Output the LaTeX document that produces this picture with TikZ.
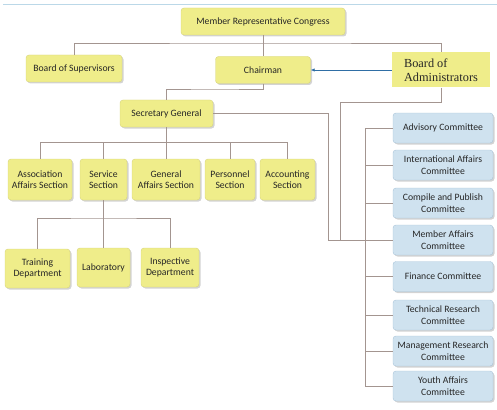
\documentclass[tikz,border=0pt]{standalone}
\usepackage{fontspec}
\setmainfont{Carlito}
\newfontfamily\adminfont{Liberation Serif}
\usepackage{tikz}
\definecolor{boxyellow}{HTML}{EFED8A}
\definecolor{boxedge}{HTML}{D6D47C}
\definecolor{comblue}{HTML}{CFE2EF}
\definecolor{comedge}{HTML}{A9C4D9}
\definecolor{linkgray}{HTML}{A39590}
\definecolor{arrowblue}{HTML}{2F6EA5}
\definecolor{topblue}{HTML}{BBD8E8}
\definecolor{inkgray}{HTML}{262626}
\usetikzlibrary{shadows,arrows.meta}
\tikzset{sec/.style={
    fill=boxyellow,
    draw=boxedge,
    rounded corners=3pt,
    align=center,
    inner sep=1pt,
    text=inkgray,
    font=\fontsize{9.7}{11.5}\selectfont,
    drop shadow={shadow xshift=1.5pt, shadow yshift=-1.5pt, opacity=0.35}},
  com/.style={sec,
    fill=comblue,
    draw=comedge,
    minimum width=100pt,
    minimum height=30pt},
  link/.style={draw=linkgray, line width=0.6pt}}

\begin{document}
\begin{tikzpicture}[x=1pt, y=-1pt]
  \useasboundingbox (0,0) rectangle (497,409);
  \draw[topblue, line width=1pt] (3,5) -- (497,5);

  \coordinate (topbus) at (263,43);
  \coordinate (chairbus) at (215,89);
  \coordinate (adminturn) at (441,102);
  \coordinate (secjoin) at (328,240);
  \coordinate (adminjoin) at (340,240);
  \coordinate (trunk) at (365,0);
  \coordinate (secbus) at (166,142);
  \coordinate (labbus) at (103.5,218);

  % top of the organisation
  \node[sec, minimum width=164pt, minimum height=27pt] (congress) at (263,21.5) {Member Representative Congress};
  \node[sec, minimum width=96pt, minimum height=27pt] (supervisors) at (74,68.5) {Board of Supervisors};
  \node[sec, minimum width=95pt, minimum height=27pt] (chairman) at (263,70) {Chairman};
  \node[fill=boxyellow,
    minimum width=98pt,
    minimum height=35pt,
    align=left,
    text=inkgray,
    font=\adminfont\fontsize{12.3}{14}\selectfont] (admin) at (441,70) {Board of\\Administrators};
  \node[sec, minimum width=93pt, minimum height=27pt] (secgen) at (166.5,113.5) {Secretary General};

  % sections
  \node[sec, minimum width=64pt, minimum height=41pt] (assoc) at (40,179.5) {Association\\Affairs Section};
  \node[sec, minimum width=47pt, minimum height=41pt] (service) at (103.5,179.5) {Service\\Section};
  \node[sec, minimum width=68pt, minimum height=41pt] (general) at (166,179.5) {General\\Affairs Section};
  \node[sec, minimum width=50pt, minimum height=41pt] (personnel) at (230,179.5) {Personnel\\Section};
  \node[sec, minimum width=55pt, minimum height=41pt] (accounting) at (287.5,179.5) {Accounting\\Section};

  % departments
  \node[sec, minimum width=65pt, minimum height=39pt] (training) at (37.5,268.5) {Training\\Department};
  \node[sec, minimum width=53pt, minimum height=39pt] (lab) at (103.5,267.5) {Laboratory};
  \node[sec, minimum width=58pt, minimum height=39pt] (inspective) at (170,267.5) {Inspective\\Department};

  % committees
  \node[com] (advisory) at (443,128) {Advisory Committee};
  \node[com] (intl) at (443,165) {International Affairs\\Committee};
  \node[com] (compile) at (443,203) {Compile and Publish\\Committee};
  \node[com] (member) at (443,240) {Member Affairs\\Committee};
  \node[com] (finance) at (443,276.5) {Finance Committee};
  \node[com] (technical) at (443,315) {Technical Research\\Committee};
  \node[com] (management) at (443,351) {Management Research\\Committee};
  \node[com] (youth) at (443,386) {Youth Affairs\\Committee};

  % connectors
  \draw[link] (congress) -- (chairman);
  \draw[link] (supervisors.north) |- (topbus) -| (admin.north);
  \draw[link] (admin.south) -- (adminturn) -| (adminjoin);
  \draw[link] (chairman.south) |- (chairbus) -| (secgen.north);
  \draw[link] (secgen.east) -| (secjoin) -- (member.west);
  \draw[link] (advisory.west -| trunk) -- (youth.west -| trunk);
  \foreach \c in {advisory,intl,compile,member,finance,technical,management,youth}
    \draw[link] (\c.west) -- (\c.west -| trunk);
  \draw[link] (secgen.south) -- (secgen.south |- secbus);
  \draw[link] (assoc.north |- secbus) -- (accounting.north |- secbus);
  \foreach \s in {assoc,service,general,personnel,accounting}
    \draw[link] (\s.north) -- (\s.north |- secbus);
  \draw[link] (service.south) -- (lab.north);
  \draw[link] (training.north) |- (labbus) -| (inspective.north);
  \draw[arrowblue, line width=0.8pt, -{Latex[length=4pt,width=3.5pt]}] (admin.west) -- (chairman.east);
\end{tikzpicture}
\end{document}
